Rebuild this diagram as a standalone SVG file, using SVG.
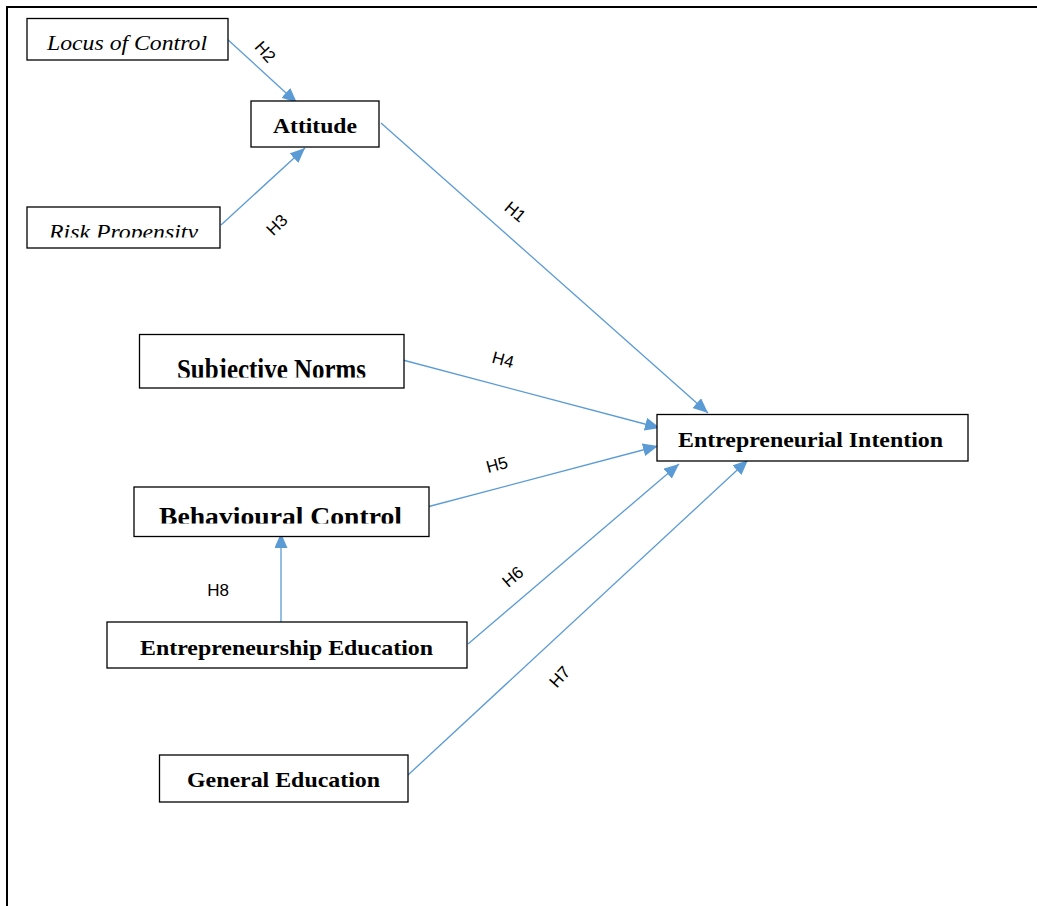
<svg xmlns="http://www.w3.org/2000/svg" width="1037" height="906" viewBox="0 0 1037 906">
  <style>
    .box { fill: #ffffff; stroke: #000000; stroke-width: 1.3; }
    .nt { font-family: "Liberation Serif", "Times New Roman", serif; font-weight: bold; fill: #000000; }
    .it { font-family: "Liberation Serif", "Times New Roman", serif; font-style: italic; fill: #000000; }
    .conn { stroke: #5B9BD5; stroke-width: 1.3; fill: none; marker-end: url(#arr); }
    .lbl { font-family: "Liberation Sans", Arial, sans-serif; font-size: 17px; fill: #000000; text-anchor: middle; dominant-baseline: central; }
    .frame { stroke: #000000; stroke-width: 2; fill: none; }
  </style>
  <defs>
    <marker id="arr" markerUnits="userSpaceOnUse" markerWidth="16" markerHeight="14" refX="15" refY="6.5" orient="auto">
      <path d="M0,0 L15,6.5 L0,13 Z" fill="#5B9BD5"/>
    </marker>
    <clipPath id="clipRisk"><rect x="27" y="207" width="193" height="30.5"/></clipPath>
    <clipPath id="clipSubj"><rect x="139" y="334" width="265" height="43.5"/></clipPath>
    <clipPath id="clipBeh"><rect x="134" y="487" width="295" height="36.5"/></clipPath>
  </defs>
  <rect width="1037" height="906" fill="#ffffff"/>
  <path class="frame" d="M7,906 L7,7 L1037,7"/>

  <g id="connectors">
    <line class="conn" x1="226" y1="38" x2="297" y2="103"/>
    <line class="conn" x1="221" y1="225" x2="305" y2="148"/>
    <line class="conn" x1="381" y1="123" x2="708" y2="413"/>
    <line class="conn" x1="399" y1="359" x2="660" y2="428"/>
    <line class="conn" x1="427" y1="507" x2="658" y2="446"/>
    <line class="conn" x1="468" y1="644" x2="679" y2="464"/>
    <line class="conn" x1="408" y1="775" x2="748" y2="460"/>
    <line class="conn" x1="281" y1="622" x2="281" y2="533"/>
    <text class="lbl" transform="translate(265,52) rotate(48)">H2</text>
    <text class="lbl" transform="translate(277,225) rotate(-45)">H3</text>
    <text class="lbl" transform="translate(515,212) rotate(40)">H1</text>
    <text class="lbl" transform="translate(503,360) rotate(15)">H4</text>
    <text class="lbl" transform="translate(497,465) rotate(-15)">H5</text>
    <text class="lbl" transform="translate(513,577) rotate(-40)">H6</text>
    <text class="lbl" transform="translate(560,677) rotate(-48)">H7</text>
    <text class="lbl" x="218" y="590">H8</text>
  </g>

  <g id="locus">
    <rect class="box" x="27" y="18.5" width="201" height="41.5"/>
    <text class="it" x="47" y="50" font-size="22" textLength="160" lengthAdjust="spacingAndGlyphs">Locus of Control</text>
  </g>
  <g id="attitude">
    <rect class="box" x="251" y="101" width="128" height="46"/>
    <text class="nt" x="273" y="133" font-size="22" textLength="84" lengthAdjust="spacingAndGlyphs">Attitude</text>
  </g>
  <g id="risk">
    <rect class="box" x="27" y="207" width="193" height="41"/>
    <text class="it" x="49" y="239" font-size="21" textLength="149" lengthAdjust="spacingAndGlyphs" clip-path="url(#clipRisk)">Risk Propensity</text>
  </g>
  <g id="subjective">
    <rect class="box" x="139.5" y="334.5" width="264.5" height="53.5"/>
    <text class="nt" x="177" y="379" font-size="29" textLength="189" lengthAdjust="spacingAndGlyphs" clip-path="url(#clipSubj)">Subjective Norms</text>
  </g>
  <g id="behavioural">
    <rect class="box" x="134" y="487" width="295" height="49.5"/>
    <text class="nt" x="159" y="525" font-size="26" textLength="243" lengthAdjust="spacingAndGlyphs" clip-path="url(#clipBeh)">Behavioural Control</text>
  </g>
  <g id="entrepreneurship-education">
    <rect class="box" x="107" y="622" width="360" height="46"/>
    <text class="nt" x="140" y="655" font-size="22" textLength="293" lengthAdjust="spacingAndGlyphs">Entrepreneurship Education</text>
  </g>
  <g id="general-education">
    <rect class="box" x="159.5" y="755" width="248.5" height="47"/>
    <text class="nt" x="187" y="787" font-size="22" textLength="193" lengthAdjust="spacingAndGlyphs">General Education</text>
  </g>
  <g id="entrepreneurial-intention">
    <rect class="box" x="657" y="414.5" width="311" height="46.5"/>
    <text class="nt" x="678" y="447" font-size="22" textLength="265" lengthAdjust="spacingAndGlyphs">Entrepreneurial Intention</text>
  </g>
</svg>
